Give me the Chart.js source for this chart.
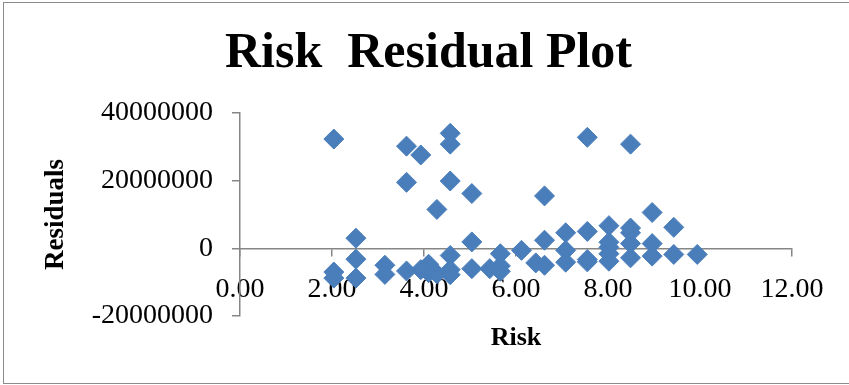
<!DOCTYPE html>
<html>
<head>
<meta charset="utf-8">
<script src="https://cdn.jsdelivr.net/npm/chart.js@4/dist/chart.umd.min.js"></script>
<style>
  html, body { margin: 0; padding: 0; background: #fff; }
  #wrap { position: relative; width: 849px; height: 385px; overflow: hidden; }
  #frame { position: absolute; left: 3px; top: 2px; width: 860px; height: 382px;
           border: 1px solid #8c8c8c; box-sizing: border-box; pointer-events: none; }
  canvas { position: absolute; left: 0; top: 0; }
</style>
</head>
<body>
<div id="wrap">
  <canvas id="chart" width="849" height="385"></canvas>
  <div id="frame"></div>
</div>
<script>
// Risk scores and regression residuals (residuals in units)
const risk = [
  2.04, 2.04, 2.04,
  2.52, 2.52, 2.52,
  3.15, 3.15,
  3.62, 3.62, 3.62,
  3.93, 3.93,
  4.10, 4.10,
  4.28, 4.28,
  4.57, 4.57, 4.57, 4.57, 4.57, 4.57,
  5.04, 5.04, 5.04,
  5.43,
  5.66, 5.66, 5.66,
  6.12,
  6.43,
  6.62, 6.62, 6.62,
  7.08, 7.08, 7.08,
  7.55, 7.55, 7.55, 7.55,
  8.02, 8.02, 8.02, 8.02, 8.02,
  8.49, 8.49, 8.49, 8.49, 8.49,
  8.96, 8.96, 8.96,
  9.43, 9.43,
  9.94
];
const residuals = [
  32300000, -7000000, -8800000,
  3000000, -3200000, -8800000,
  -5000000, -7700000,
  30200000, 19500000, -6700000,
  27600000, -6300000,
  -4700000, -7200000,
  11500000, -7500000,
  34000000, 30800000, 19900000, -2100000, -6300000, -7800000,
  16200000, 1900000, -6000000,
  -6000000,
  -1600000, -5200000, -6800000,
  -600000,
  -4300000,
  15500000, 2400000, -5000000,
  4600000, -600000, -4100000,
  32800000, 5000000, -3300000, -4000000,
  6700000, 1800000, 300000, -1600000, -3800000,
  30800000, 6000000, 4600000, 1400000, -2800000,
  10600000, 1400000, -2300000,
  6200000, -1800000,
  -1800000
];
const xTicks = [0, 2, 4, 6, 8, 10, 12];
const yTicks = [-20000000, 0, 20000000, 40000000];

const points = risk.map((x, i) => ({ x: x, y: residuals[i] }));
const axisGray = '#868686';
const serif = '"Liberation Serif", "Times New Roman", serif';

new Chart(document.getElementById('chart'), {
  type: 'scatter',
  data: {
    datasets: [{
      label: 'Residuals',
      data: points,
      pointStyle: 'rectRot',
      pointRadius: 10,
      pointHoverRadius: 10,
      backgroundColor: '#4a7ebb',
      borderColor: '#4a7ebb',
      borderWidth: 1
    }]
  },
  options: {
    responsive: false,
    animation: false,
    events: [],
    layout: { padding: { top: 0, left: 10, right: 2, bottom: 69 } },
    plugins: {
      legend: { display: false },
      tooltip: { enabled: false },
      title: {
        display: true,
        text: 'Risk  Residual Plot',
        color: '#000',
        font: { family: serif, size: 50, weight: 'bold', lineHeight: 1.2 },
        padding: { top: 24, bottom: 29 }
      }
    },
    scales: {
      x: {
        type: 'linear',
        position: { y: 0 },
        min: xTicks[0],
        max: xTicks[xTicks.length - 1],
        afterBuildTicks: (s) => { s.ticks = xTicks.map(v => ({ value: v })); },
        border: { display: true, color: axisGray, width: 1.5 },
        grid: { display: true, drawOnChartArea: false, drawTicks: true, tickLength: 7, color: axisGray, lineWidth: 1.5 },
        ticks: {
          color: '#000',
          padding: 18,
          maxRotation: 0,
          font: { family: serif, size: 28, lineHeight: 1.2 },
          callback: (v) => Number(v).toFixed(2)
        },
        title: {
          display: true,
          text: 'Risk',
          color: '#000',
          font: { family: serif, size: 26, weight: 'bold', lineHeight: 1.0 },
          padding: { top: 0, bottom: 0 }
        }
      },
      y: {
        type: 'linear',
        position: 'left',
        min: yTicks[0],
        max: yTicks[yTicks.length - 1],
        afterBuildTicks: (s) => { s.ticks = yTicks.map(v => ({ value: v })); },
        afterFit: (s) => { s.width = 230; },
        border: { display: true, color: axisGray, width: 1.5 },
        grid: { display: true, drawOnChartArea: false, drawTicks: true, tickLength: 8, color: axisGray, lineWidth: 1.5 },
        ticks: {
          color: '#000',
          padding: 19,
          font: { family: serif, size: 28, lineHeight: 1.2 },
          callback: (v) => String(v)
        },
        title: {
          display: true,
          text: 'Residuals',
          color: '#000',
          font: { family: serif, size: 27, weight: 'bold', lineHeight: 1.2 },
          padding: { top: 30, bottom: 0 }
        }
      },
      // empty right-hand margin so the title centres over the whole frame
      yRight: {
        type: 'linear',
        position: 'right',
        display: true,
        afterFit: (s) => { s.width = 55; },
        border: { display: false },
        grid: { display: false },
        ticks: { display: false }
      }
    }
  }
});
</script>
</body>
</html>
